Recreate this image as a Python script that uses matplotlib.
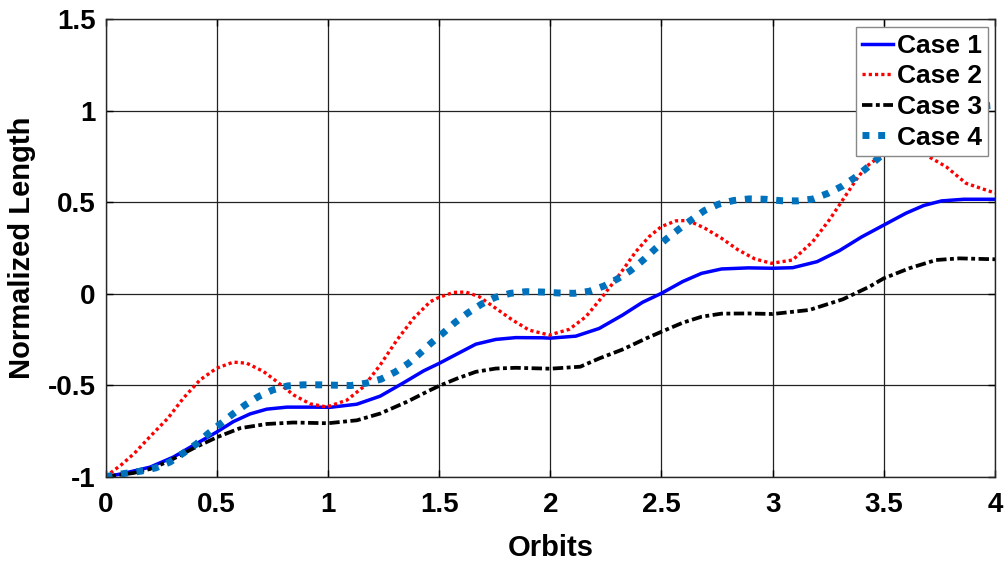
import matplotlib
matplotlib.use("Agg")
import matplotlib.pyplot as plt

# values
case1_x = [0, 0.07, 0.2, 0.305, 0.395, 0.5, 0.575, 0.65, 0.725, 0.815, 0.935, 1.01, 1.13, 1.235,
           1.34, 1.43, 1.5, 1.58, 1.665, 1.755, 1.845, 1.965, 2.0, 2.115, 2.22, 2.325, 2.415, 2.5,
           2.595, 2.68, 2.77, 2.89, 3.0, 3.09, 3.2, 3.3, 3.4, 3.5, 3.6, 3.68, 3.76, 3.86, 4.0]
case1_y = [-1, -0.985, -0.948, -0.893, -0.829, -0.756, -0.699, -0.657, -0.631, -0.62, -0.62, -0.621,
           -0.604, -0.56, -0.487, -0.422, -0.381, -0.33, -0.276, -0.25, -0.24, -0.241, -0.243, -0.232,
           -0.19, -0.117, -0.047, 0.002, 0.066, 0.111, 0.135, 0.141, 0.139, 0.142, 0.175, 0.235, 0.31,
           0.375, 0.44, 0.482, 0.507, 0.516, 0.516]

case2_x = [0, 0.07, 0.13, 0.2, 0.28, 0.35, 0.425, 0.5, 0.575, 0.635, 0.71, 0.77, 0.845, 0.92, 0.995,
           1.085, 1.16, 1.235, 1.31, 1.385, 1.46, 1.5, 1.565, 1.62, 1.68, 1.755, 1.83, 1.905, 1.995,
           2.085, 2.16, 2.235, 2.31, 2.385, 2.445, 2.5, 2.565, 2.62, 2.695, 2.77, 2.845, 2.92, 2.995,
           3.09, 3.18, 3.255, 3.315, 3.375, 3.42, 3.5, 3.58, 3.66, 3.78, 3.87, 4.0]
case2_y = [-1, -0.936, -0.872, -0.781, -0.681, -0.571, -0.471, -0.407, -0.374, -0.38, -0.425, -0.48,
           -0.553, -0.602, -0.619, -0.582, -0.509, -0.39, -0.254, -0.135, -0.044, -0.02, 0.007, 0.009,
           -0.016, -0.08, -0.144, -0.199, -0.226, -0.195, -0.126, -0.016, 0.102, 0.23, 0.312, 0.367,
           0.398, 0.4, 0.358, 0.303, 0.239, 0.19, 0.166, 0.184, 0.284, 0.403, 0.512, 0.621, 0.694,
           0.765, 0.793, 0.778, 0.694, 0.603, 0.55]

case3_x = [0, 0.125, 0.2, 0.28, 0.395, 0.5, 0.605, 0.725, 0.845, 1.0, 1.13, 1.235, 1.355, 1.46, 1.5,
           1.58, 1.665, 1.755, 1.845, 2.0, 2.135, 2.22, 2.325, 2.43, 2.5, 2.595, 2.68, 2.77, 2.89,
           3.0, 3.165, 3.315, 3.435, 3.5, 3.615, 3.735, 3.84, 4.0]
case3_y = [-1, -0.98, -0.958, -0.918, -0.845, -0.785, -0.735, -0.712, -0.704, -0.708, -0.692, -0.655,
           -0.591, -0.527, -0.504, -0.464, -0.427, -0.409, -0.405, -0.41, -0.399, -0.354, -0.305,
           -0.245, -0.208, -0.159, -0.126, -0.109, -0.108, -0.111, -0.089, -0.031, 0.038, 0.084,
           0.139, 0.184, 0.193, 0.188]

case4_x = [0, 0.087, 0.158, 0.225, 0.29, 0.349, 0.409, 0.46, 0.516, 0.573, 0.628, 0.688, 0.752, 0.819,
           0.89, 0.961, 1.031, 1.103, 1.172, 1.239, 1.304, 1.363, 1.413, 1.466, 1.521, 1.572, 1.631,
           1.691, 1.752, 1.821, 1.891, 1.966, 2.035, 2.107, 2.175, 2.242, 2.304, 2.361, 2.418, 2.47,
           2.522, 2.578, 2.634, 2.693, 2.757, 2.824, 2.894, 2.966, 3.04, 3.11, 3.18, 3.25, 3.315,
           3.375, 3.43, 3.475, 3.58, 3.695, 3.83, 3.9, 4.0]
case4_y = [-1, -0.982, -0.97, -0.952, -0.92, -0.872, -0.821, -0.766, -0.712, -0.657, -0.608, -0.562,
           -0.526, -0.504, -0.498, -0.498, -0.5, -0.502, -0.489, -0.467, -0.427, -0.38, -0.327,
           -0.268, -0.212, -0.157, -0.104, -0.057, -0.02, 0.002, 0.011, 0.009, 0.004, 0.002, 0.013,
           0.042, 0.082, 0.126, 0.184, 0.243, 0.299, 0.352, 0.403, 0.454, 0.489, 0.509, 0.518, 0.516,
           0.508, 0.507, 0.517, 0.549, 0.589, 0.639, 0.694, 0.74, 0.857, 0.953, 1.013, 1.02, 1.03]

labels = ['Case 1', 'Case 2', 'Case 3', 'Case 4']
xticks = [0, 0.5, 1, 1.5, 2, 2.5, 3, 3.5, 4]
xticklabels = ['0', '0.5', '1', '1.5', '2', '2.5', '3', '3.5', '4']
yticks = [-1, -0.5, 0, 0.5, 1, 1.5]
yticklabels = ['-1', '-0.5', '0', '0.5', '1', '1.5']

plt.rcParams['font.family'] = ['Liberation Sans', 'DejaVu Sans']
plt.rcParams['font.weight'] = 'bold'
plt.rcParams['lines.scale_dashes'] = False

fig = plt.figure(figsize=(10.08, 5.61), dpi=100)
ax = fig.add_axes([0.1047, 0.1503, 0.8824, 0.8155])

ax.plot(case1_x, case1_y, color='#0000ff', lw=2.5, label=labels[0])
ax.plot(case2_x, case2_y, color='#ff0000', lw=2.4, dashes=(2.3, 2.2), label=labels[1])
ax.plot(case3_x, case3_y, color='black', lw=2.7, dashes=(7.5, 2.5, 2.8, 2.5), label=labels[2])
ax.plot(case4_x, case4_y, color='#0072BD', lw=5.0, dashes=(5.0, 6.3), label=labels[3])

ax.set_xlim(0, 4)
ax.set_ylim(-1, 1.5)
ax.set_xticks(xticks)
ax.set_xticklabels(xticklabels, fontsize=20, fontweight='bold')
ax.set_yticks(yticks)
ax.set_yticklabels(yticklabels, fontsize=20, fontweight='bold')
ax.tick_params(direction='in', length=5, width=1, top=True, right=True, pad=7)
ax.tick_params(axis='x', pad=11)

ax.grid(True, color='#222222', lw=0.9)
ax.set_axisbelow(True)
for s in ax.spines.values():
    s.set_linewidth(1.0)
    s.set_color('#262626')

ax.set_xlabel('Orbits', fontsize=21, fontweight='bold')
ax.xaxis.set_label_coords(0.5, -0.125)
ax.set_ylabel('Normalized Length', fontsize=21, fontweight='bold')
ax.yaxis.set_label_coords(-0.078, 0.5)

leg = ax.legend(loc='upper right', bbox_to_anchor=(0.9925, 0.9823), borderaxespad=0,
                fancybox=False, framealpha=1, edgecolor='#888888', fontsize=19,
                handlelength=1.15, handletextpad=0.15, labelspacing=0.25, borderpad=0.25)
leg.get_frame().set_linewidth(1.0)

fig.savefig('out.png', dpi=100)
